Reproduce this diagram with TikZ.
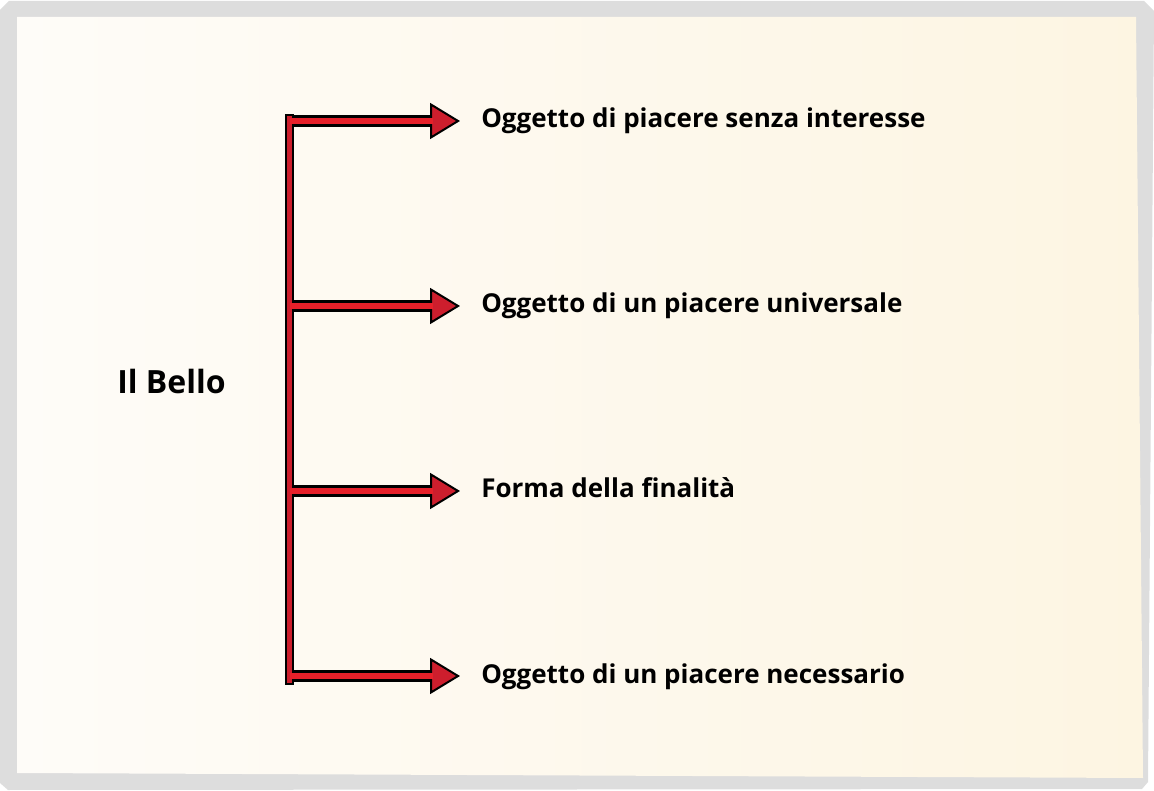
\documentclass[tikz,border=0pt]{standalone}
\usepackage{fontspec}
\setmainfont{Open Sans}
\usetikzlibrary{arrows.meta,positioning}
\definecolor{framegray}{RGB}{221,221,221}
\definecolor{creamleft}{RGB}{254,252,248}
\definecolor{creamright}{RGB}{253,245,226}
\definecolor{arrowred}{RGB}{205,30,45}
\definecolor{shaftred}{RGB}{230,32,42}

\begin{document}
\begin{tikzpicture}[x=0.75pt,y=-0.75pt,
    rootlabel/.style={anchor=base west,inner sep=0pt,font=\fontsize{24}{28}\selectfont\bfseries},
    leaf/.style={anchor=base west,inner xsep=15.75pt,inner ysep=0pt,font=\fontsize{19.5}{23}\selectfont\bfseries},
    branch/.style={line width=9pt,-{Triangle[length=22.5pt,width=27pt,line width=1.5pt,fill=arrowred]}},
    core/.style={line width=5pt,draw=shaftred,shorten >=20pt}]
    \useasboundingbox (0,0) rectangle (1154,791);
    % frame and paper
    \fill[framegray] (0,10)--(9,1)--(1144,1)--(1154,11)--(1148,782)--(1142,789)--(8,790)--(0,783)--cycle;
    \shade[left color=creamleft,right color=creamright] (17,17)--(1136,17)--(1143,778)--(17,773)--cycle;
    % texts
    \node[rootlabel] (bello) at (117,394) {Il Bello};
    \node[leaf] (senza) at (460,128) {Oggetto di piacere senza interesse};
    \node[leaf] (universale) at (460,313) {Oggetto di un piacere universale};
    \node[leaf] (finalita) at (460,498) {Forma della finalità};
    \node[leaf] (necessario) at (460,683) {Oggetto di un piacere necessario};
    % bar
    \coordinate (top) at (289.5,115);
    \coordinate (bot) at (289.5,684);
    \draw[fill=arrowred,line width=1pt] ([xshift=-2.6pt]top) rectangle ([xshift=2.6pt]bot);
    \coordinate (b1) at (293,121);
    \coordinate (b2) at (293,306);
    \coordinate (b3) at (293,491);
    \coordinate (b4) at (293,676);
    % arrows
    \draw[branch] (b1) -- (b1 -| senza.west);
    \draw[core] ([xshift=-2.5pt]b1) -- (b1 -| senza.west);
    \draw[branch] (b2) -- (b2 -| universale.west);
    \draw[core] ([xshift=-2.5pt]b2) -- (b2 -| universale.west);
    \draw[branch] (b3) -- (b3 -| finalita.west);
    \draw[core] ([xshift=-2.5pt]b3) -- (b3 -| finalita.west);
    \draw[branch] (b4) -- (b4 -| necessario.west);
    \draw[core] ([xshift=-2.5pt]b4) -- (b4 -| necessario.west);
\end{tikzpicture}
\end{document}
